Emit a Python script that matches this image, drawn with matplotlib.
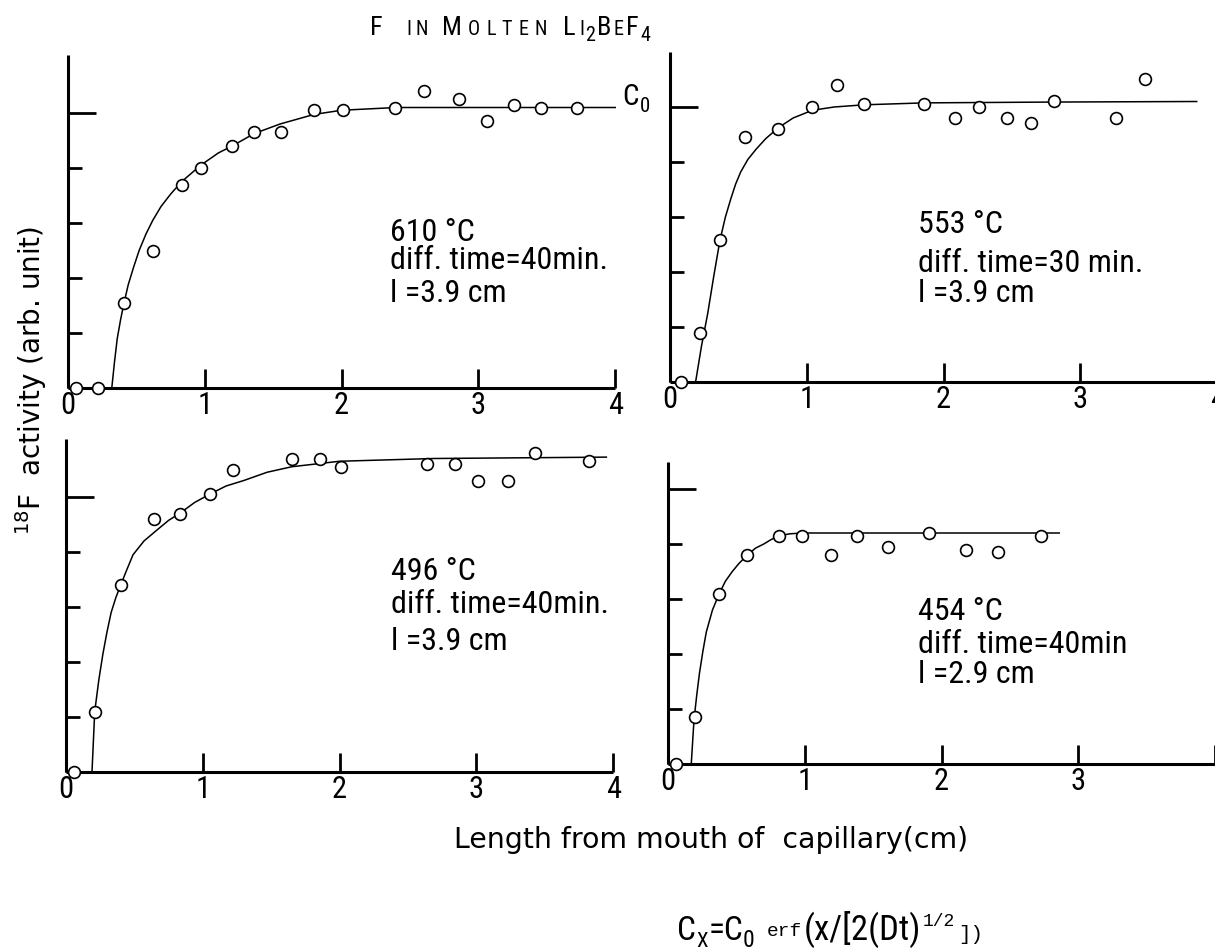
import matplotlib
matplotlib.use("Agg")
import matplotlib.pyplot as plt
from matplotlib import font_manager

W, H, DPI = 1215, 951, 100


def pick_narrow_font():
    """Return FontProperties kwargs for the narrowest installed sans face."""
    candidates = [
        ("Roboto Condensed", "normal"),
        ("Liberation Sans Narrow", "normal"),
        ("DejaVu Sans", "condensed"),
        ("Noto Sans", "condensed"),
        ("Open Sans", "condensed"),
    ]
    for fam, stretch in candidates:
        prop = font_manager.FontProperties(family=fam, stretch=stretch)
        path = font_manager.findfont(prop, fallback_to_default=False)
        name = path.lower()
        if "cond" in name or "narrow" in name:
            return {"family": [fam], "stretch": stretch}
    return {"family": ["Roboto"], "stretch": "normal"}


NARROW_KW = pick_narrow_font()
plt.rcParams["font.family"] = NARROW_KW["family"] + ["DejaVu Sans"]
plt.rcParams["font.stretch"] = NARROW_KW["stretch"]

# ---- measured 18F profiles (x in cm, activity in units of C0) ----
x_610 = [0.06, 0.22, 0.41, 0.62, 0.83, 0.97, 1.20, 1.36, 1.56, 1.80, 2.01, 2.39,
         2.60, 2.86, 3.06, 3.26, 3.46, 3.72]
y_610 = [0.00, 0.00, 0.31, 0.50, 0.74, 0.80, 0.88, 0.93, 0.93, 1.01, 1.01, 1.02,
         1.08, 1.05, 0.97, 1.03, 1.02, 1.02]
fit_x_610 = [0.32, 0.34, 0.36, 0.385, 0.41, 0.44, 0.48, 0.52, 0.57, 0.62, 0.68, 0.75,
             0.83, 0.90, 0.97, 1.10, 1.20, 1.36, 1.55, 1.80, 2.00, 2.40, 3.00, 3.60, 4.00]
fit_y_610 = [0.00, 0.095, 0.18, 0.25, 0.31, 0.375, 0.44, 0.50, 0.56, 0.61, 0.66, 0.705,
             0.75, 0.78, 0.81, 0.855, 0.88, 0.925, 0.96, 0.995, 1.01, 1.02, 1.02, 1.02, 1.02]

x_553 = [0.08, 0.22, 0.365, 0.55, 0.79, 1.04, 1.22, 1.42, 1.86, 2.08, 2.26, 2.46,
         2.64, 2.81, 3.26, 3.47]
y_553 = [0.00, 0.18, 0.515, 0.89, 0.92, 1.00, 1.08, 1.01, 1.01, 0.96, 1.00, 0.96,
         0.94, 1.02, 0.96, 1.10]
fit_x_553 = [0.187, 0.23, 0.276, 0.32, 0.365, 0.405, 0.445, 0.48, 0.517, 0.57, 0.632,
             0.70, 0.79, 0.90, 1.04, 1.20, 1.42, 1.86, 2.81, 3.85]
fit_y_553 = [0.00, 0.13, 0.25, 0.385, 0.515, 0.60, 0.667, 0.72, 0.764, 0.81, 0.848,
             0.885, 0.924, 0.96, 0.988, 1.00, 1.008, 1.015, 1.018, 1.02]

x_496 = [0.06, 0.21, 0.40, 0.64, 0.83, 1.05, 1.22, 1.65, 1.86, 2.01, 2.64, 2.84,
         3.01, 3.23, 3.43, 3.82]
y_496 = [0.00, 0.22, 0.68, 0.92, 0.94, 1.01, 1.10, 1.14, 1.14, 1.11, 1.12, 1.12,
         1.06, 1.06, 1.16, 1.13]
fit_x_496 = [0.19, 0.20, 0.21, 0.24, 0.27, 0.30, 0.33, 0.365, 0.40, 0.44, 0.49, 0.57,
             0.665, 0.75, 0.83, 0.94, 1.05, 1.17, 1.30, 1.47, 1.65, 2.00, 2.69, 3.95]
fit_y_496 = [0.00, 0.11, 0.22, 0.335, 0.43, 0.51, 0.58, 0.635, 0.68, 0.73, 0.79, 0.84,
             0.88, 0.915, 0.94, 0.98, 1.01, 1.04, 1.06, 1.09, 1.11, 1.13, 1.14, 1.145]

x_454 = [0.06, 0.20, 0.375, 0.58, 0.81, 0.98, 1.19, 1.38, 1.61, 1.91, 2.18, 2.41, 2.73]
y_454 = [0.00, 0.17, 0.62, 0.76, 0.83, 0.83, 0.76, 0.83, 0.79, 0.84, 0.78, 0.77, 0.83]
fit_x_454 = [0.17, 0.18, 0.19, 0.21, 0.23, 0.255, 0.28, 0.325, 0.375, 0.42, 0.47, 0.52,
             0.58, 0.64, 0.70, 0.75, 0.81, 0.89, 0.98, 1.50, 2.86]
fit_y_454 = [0.00, 0.08, 0.16, 0.25, 0.33, 0.41, 0.48, 0.56, 0.62, 0.665, 0.70, 0.73,
             0.76, 0.785, 0.80, 0.815, 0.83, 0.837, 0.84, 0.84, 0.84]

x_ticks = [0, 1, 2, 3, 4]
x_ticklabels = ["0", "1", "2", "3", "4"]
x_ticklabels_454 = ["0", "1", "2", "3", ""]
y_minor_ticks = [0.2, 0.4, 0.6, 0.8]
c0_level = 1.0

panel_notes = {
    "610": ["610 °C", "diff. time=40min.", "l =3.9 cm"],
    "553": ["553 °C", "diff. time=30 min.", "l =3.9 cm"],
    "496": ["496 °C", "diff. time=40min.", "l =3.9 cm"],
    "454": ["454 °C", "diff. time=40min", "l =2.9 cm"],
}

fig = plt.figure(figsize=(W / DPI, H / DPI), dpi=DPI)
fig.patch.set_facecolor("white")

X_UNIT, Y_UNIT = 136.8, 275.0   # pixels per cm and per C0


def panel(x0, y0, ytop, xs, ys, fx, fy, labels):
    ax = fig.add_axes([x0 / W, 1 - y0 / H, 4 * X_UNIT / W, ytop * Y_UNIT / H])
    ax.set_xlim(0, 4)
    ax.set_ylim(0, ytop)
    ax.patch.set_visible(False)
    for side in ("top", "right"):
        ax.spines[side].set_visible(False)
    for side in ("left", "bottom"):
        ax.spines[side].set_linewidth(2.2)
        ax.spines[side].set_capstyle("butt")
    ax.set_xticks(x_ticks)
    ax.set_xticklabels(labels, fontsize=22)
    ax.tick_params(axis="x", direction="in", length=14, width=2.0, pad=2)
    ax.set_yticks([c0_level])
    ax.set_yticklabels([])
    ax.set_yticks(y_minor_ticks, minor=True)
    ax.tick_params(axis="y", which="major", direction="in", length=20, width=2.0)
    ax.tick_params(axis="y", which="minor", direction="in", length=10, width=2.0)
    ax.plot(fx, fy, color="black", lw=1.1, clip_on=False, zorder=3,
            solid_joinstyle="round")
    ax.plot(xs, ys, "o", ms=8.5, mfc="white", mec="black", mew=1.2,
            clip_on=False, zorder=4)
    return ax


ax1 = panel(68, 388, 1.21, x_610, y_610, fit_x_610, fit_y_610, x_ticklabels)
ax2 = panel(670, 382, 1.20, x_553, y_553, fit_x_553, fit_y_553, x_ticklabels)
ax3 = panel(66, 772, 1.21, x_496, y_496, fit_x_496, fit_y_496, x_ticklabels)
ax4 = panel(668, 764, 1.10, x_454, y_454, fit_x_454, fit_y_454, x_ticklabels_454)


def fig_text(x_px, y_px, s, **kw):
    return fig.text(x_px / W, 1 - y_px / H, s, **kw)


# condition notes, one line at a time (baseline positions in pixels)
note_layout = {
    "610": (390, [241, 269, 302]),
    "553": (918, [233, 272, 302]),
    "496": (391, [580, 613, 650]),
    "454": (918, [620, 653, 683]),
}
for key, (nx, baselines) in note_layout.items():
    for line, by in zip(panel_notes[key], baselines):
        fig_text(nx, by, line, fontsize=23, va="baseline", ha="left")

renderer = fig.canvas.get_renderer()


def text_run(x_px, y_px, pieces):
    """Lay out pieces along a baseline: (text, size, rise_px, family, gap_px)."""
    pos = x_px
    for s, size, rise, fam, gap in pieces:
        t = fig_text(pos, y_px - rise, s, fontsize=size, family=fam,
                     va="baseline", ha="left")
        pos += t.get_window_extent(renderer=renderer).width + gap


NARROW = NARROW_KW["family"]
BIG, SMALL, SP = 19, 14.5, 6
text_run(370, 35, [
    ("F", BIG, 0, NARROW, 24),
    ("I", SMALL, 0, NARROW, 4),
    ("N", SMALL, 0, NARROW, 14),
    ("M", BIG, 0, NARROW, SP),
    ("O", SMALL, 0, NARROW, SP),
    ("L", SMALL, 0, NARROW, SP),
    ("T", SMALL, 0, NARROW, SP),
    ("E", SMALL, 0, NARROW, SP),
    ("N", SMALL, 0, NARROW, 16),
    ("L", BIG, 0, NARROW, 4),
    ("I", SMALL, 0, NARROW, 1),
    ("2", SMALL, -6, NARROW, 2),
    ("B", BIG, 0, NARROW, 2),
    ("E", SMALL, 0, NARROW, 3),
    ("F", BIG, 0, NARROW, 1),
    ("4", SMALL, -6, NARROW, 0),
])

# C0 marker at the end of the 610 °C plateau
text_run(622, 105, [("C", 21, 0, NARROW, 1), ("0", 15, -7, NARROW, 0)])

# vertical axis title with a superscript mass number
fig.text(31 / W, 1 - 380 / H, "$^{18}$F  activity (arb. unit)", fontsize=20,
         rotation=90, va="center", ha="center", family=["DejaVu Sans"])

fig_text(711, 848, "Length from mouth of  capillary(cm)", fontsize=20.4,
         va="baseline", ha="center", family=["DejaVu Sans"])

MONO = ["Liberation Mono"]
text_run(677, 940, [
    ("C", 24, 0, NARROW, 0),
    ("X", 15, -7, NARROW, 1),
    ("=C", 24, 0, NARROW, 0),
    ("0", 17, -7, NARROW, 12),
    ("erf", 14, 4, MONO, 2),
    ("(x/[2(Dt)", 25, 0, NARROW, 1),
    ("1/2", 13, 14, MONO, 3),
    ("])", 15, 0, MONO, 0),
])

fig.savefig("out.png", dpi=DPI, facecolor="white")
